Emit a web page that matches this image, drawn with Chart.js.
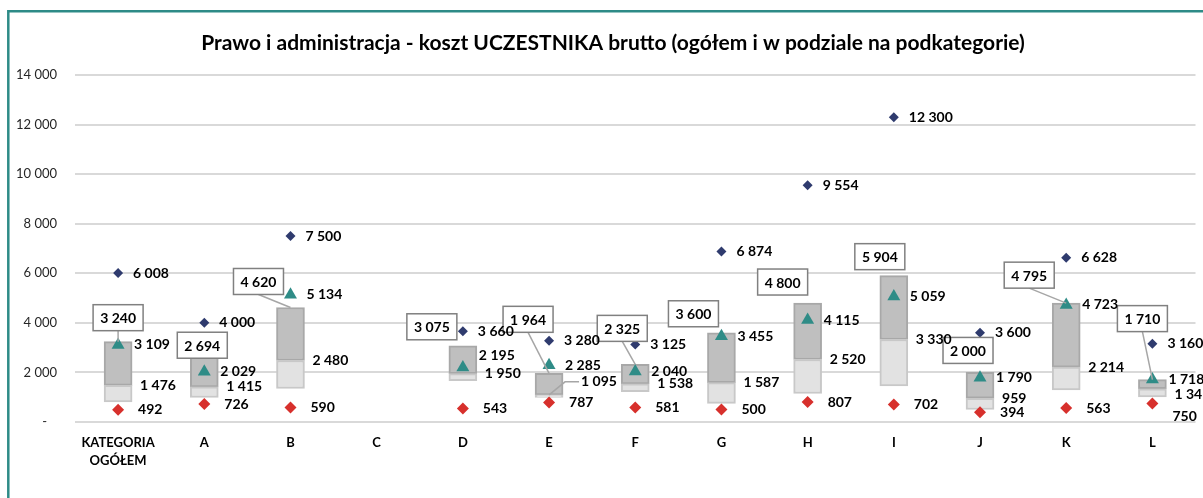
<!DOCTYPE html>
<html>
<head>
<meta charset="utf-8">
<script src="https://cdn.jsdelivr.net/npm/chart.js@4"></script>
<style>
  html, body { margin: 0; padding: 0; background: #fff; }
  #wrap { position: relative; width: 1203px; height: 498px; }
</style>
</head>
<body>
<div id="wrap"><canvas id="c"></canvas></div>
<script>
// ---- data ----
const titleText = 'Prawo i administracja - koszt UCZESTNIKA brutto (ogółem i w podziale na podkategorie)';
const categories = [['KATEGORIA', 'OGÓŁEM'], 'A', 'B', 'C', 'D', 'E', 'F', 'G', 'H', 'I', 'J', 'K', 'L'];
const maxVals    = [6008, 4000, 7500, null, 3660, 3280, 3125, 6874, 9554, 12300, 3600, 6628, 3160];
const q3Vals     = [3240, 2694, 4620, null, 3075, 1964, 2325, 3600, 4800, 5904, 2000, 4795, 1710];
const meanVals   = [3109, 2029, 5134, null, 2195, 2285, 2040, 3455, 4115, 5059, 1790, 4723, 1718];
const medianVals = [1476, 1415, 2480, null, 1950, 1095, 1538, 1587, 2520, 3330, 959, 2214, 1341];
const q1Vals     = [810, 990, 1350, null, 1665, 990, 1220, 750, 1150, 1460, 505, 1290, 1015];
const minVals    = [492, 726, 590, null, 543, 787, 581, 500, 807, 702, 394, 563, 750];
const yTicks     = [0, 2000, 4000, 6000, 8000, 10000, 12000, 14000];

// ---- layout of labels (pixel nudges, style only) ----
const q3LabelShift = [[0,-24],[-2,-10],[-32,-26],null,[-31,-19],[-21,-54],[-13,-36],[-28,-19],[-25,-21],[-14,-19],[-12,-22],[-37,-28],[-10,-61]];
const meanLabelDy   = [0,0,0,0,-12,0,0,0,0,0,0,0,0];
const medianLabelDy = [0,0,0,0,0,-13,0,0,0,0,0,0,6];
const minLabelDy    = [0,0,0,0,0,0,0,0,0,0,0,0,13];

const fmt = v => String(v).replace(/\B(?=(\d{3})+(?!\d))/g, ' ');
const FONT = 'Lato, "Open Sans", sans-serif';

const lightData = categories.map((_, i) => q1Vals[i] == null ? null : [q1Vals[i], medianVals[i]]);
const darkData  = categories.map((_, i) => q3Vals[i] == null ? null : [medianVals[i], q3Vals[i]]);

const framePlugin = {
  id: 'frame',
  beforeDraw(chart) {
    const ctx = chart.ctx;
    ctx.save();
    ctx.strokeStyle = '#2e8b87';
    ctx.lineWidth = 2.5;
    ctx.beginPath();
    ctx.moveTo(8.3, 500);
    ctx.lineTo(8.3, 11.3);
    ctx.lineTo(1210, 11.3);
    ctx.stroke();
    ctx.fillStyle = '#000';
    ctx.font = 'bold 21px ' + FONT;
    ctx.textAlign = 'center';
    ctx.textBaseline = 'middle';
    ctx.fillText(titleText, 613, 43);
    ctx.restore();
  }
};

const labelPlugin = {
  id: 'labels',
  afterDatasetsDraw(chart) {
    const ctx = chart.ctx;
    const x = chart.scales.x, y = chart.scales.y;
    ctx.save();
    ctx.font = 'bold 14px ' + FONT;
    ctx.textBaseline = 'middle';
    // pass 1: boxed Q3 labels with leader lines
    for (let i = 0; i < categories.length; i++) {
      if (q3Vals[i] == null) continue;
      const cx = x.getPixelForValue(i);
      const topY = y.getPixelForValue(q3Vals[i]);
      const sh = q3LabelShift[i];
      const lx = cx + sh[0], ly = topY + sh[1];
      const w = 50, h = 26;
      if ((topY - (ly + h / 2)) > 10) {
        ctx.strokeStyle = '#a6a6a6';
        ctx.lineWidth = 1.5;
        ctx.beginPath();
        ctx.moveTo(lx, ly + h / 2);
        ctx.lineTo(cx, topY);
        ctx.stroke();
      }
      ctx.fillStyle = '#fff';
      ctx.fillRect(lx - w / 2, ly - h / 2, w, h);
      ctx.strokeStyle = '#808080';
      ctx.lineWidth = 1.5;
      ctx.strokeRect(lx - w / 2, ly - h / 2, w, h);
      ctx.fillStyle = '#000';
      ctx.textAlign = 'center';
      ctx.fillText(fmt(q3Vals[i]), lx, ly + 1);
    }
    // pass 2: value labels next to markers
    const txt = (t, px, py) => { ctx.textAlign = 'left'; ctx.fillStyle = '#000'; ctx.fillText(t, px, py); };
    for (let i = 0; i < categories.length; i++) {
      if (q3Vals[i] == null) continue;
      const cx = x.getPixelForValue(i);
      txt(fmt(maxVals[i]), cx + 15, y.getPixelForValue(maxVals[i]));
      txt(fmt(meanVals[i]), cx + 16, y.getPixelForValue(meanVals[i]) + meanLabelDy[i]);
      const medY = y.getPixelForValue(medianVals[i]);
      const medLY = medY + medianLabelDy[i];
      const led = Math.abs(medianLabelDy[i]) > 10;
      if (led) {
        ctx.strokeStyle = '#a6a6a6';
        ctx.lineWidth = 1.5;
        ctx.beginPath();
        ctx.moveTo(cx, medY);
        ctx.lineTo(cx + 16, medLY);
        ctx.lineTo(cx + 30, medLY);
        ctx.stroke();
      }
      txt(fmt(medianVals[i]), cx + (led ? 32 : 22), medLY);
      txt(fmt(minVals[i]), cx + 20, y.getPixelForValue(minVals[i]) + minLabelDy[i]);
    }
    ctx.restore();
  }
};

new Chart(document.getElementById('c'), {
  data: {
    labels: categories,
    datasets: [
      { type: 'line', label: 'max', data: maxVals, showLine: false, pointStyle: 'rectRot', pointRadius: 5, pointHoverRadius: 5,
        pointBackgroundColor: '#2f3b6e', pointBorderColor: '#2f3b6e', pointBorderWidth: 0, order: 0 },
      { type: 'line', label: 'średnia', data: meanVals, showLine: false, pointStyle: 'triangle', pointRadius: 7.5, pointHoverRadius: 7.5,
        pointBackgroundColor: '#2f8c87', pointBorderColor: '#2f8c87', pointBorderWidth: 0, order: 0 },
      { type: 'line', label: 'min', data: minVals, showLine: false, pointStyle: 'rectRot', pointRadius: 6, pointHoverRadius: 6,
        pointBackgroundColor: '#d7302c', pointBorderColor: '#d7302c', pointBorderWidth: 0, order: 0 },
      { type: 'bar', label: 'Q1-mediana', data: lightData, backgroundColor: '#e2e2e2', borderColor: '#c8c8c8', borderWidth: 2,
        borderSkipped: false, barThickness: 28, grouped: false, order: 10 },
      { type: 'bar', label: 'mediana-Q3', data: darkData, backgroundColor: '#bfbfbf', borderColor: '#a8a8a8', borderWidth: 2,
        borderSkipped: false, barThickness: 28, grouped: false, order: 10 }
    ]
  },
  options: {
    responsive: true,
    maintainAspectRatio: false,
    animation: false,
    layout: { padding: { top: 75, right: 4, left: 0, bottom: 0 } },
    plugins: { legend: { display: false }, tooltip: { enabled: false }, title: { display: false } },
    scales: {
      x: {
        type: 'category',
        offset: true,
        grid: { display: false, drawTicks: false },
        border: { display: false },
        ticks: { color: '#000', font: { family: FONT, size: 13, weight: 'bold', lineHeight: 1.4 }, padding: 12, maxRotation: 0, autoSkip: false },
        afterFit: s => { s.height = 76; }
      },
      y: {
        min: 0, max: 14000,
        afterBuildTicks: s => { s.ticks = yTicks.map(v => ({ value: v })); },
        grid: { color: '#d9d9d9', lineWidth: 2, drawTicks: false },
        border: { display: false },
        ticks: { color: '#262626', font: { family: FONT, size: 13 }, padding: 18,
          callback: v => v === 0 ? '-   ' : fmt(v) },
        afterFit: s => { s.width = 75; }
      }
    }
  },
  plugins: [framePlugin, labelPlugin]
});
</script>
</body>
</html>
